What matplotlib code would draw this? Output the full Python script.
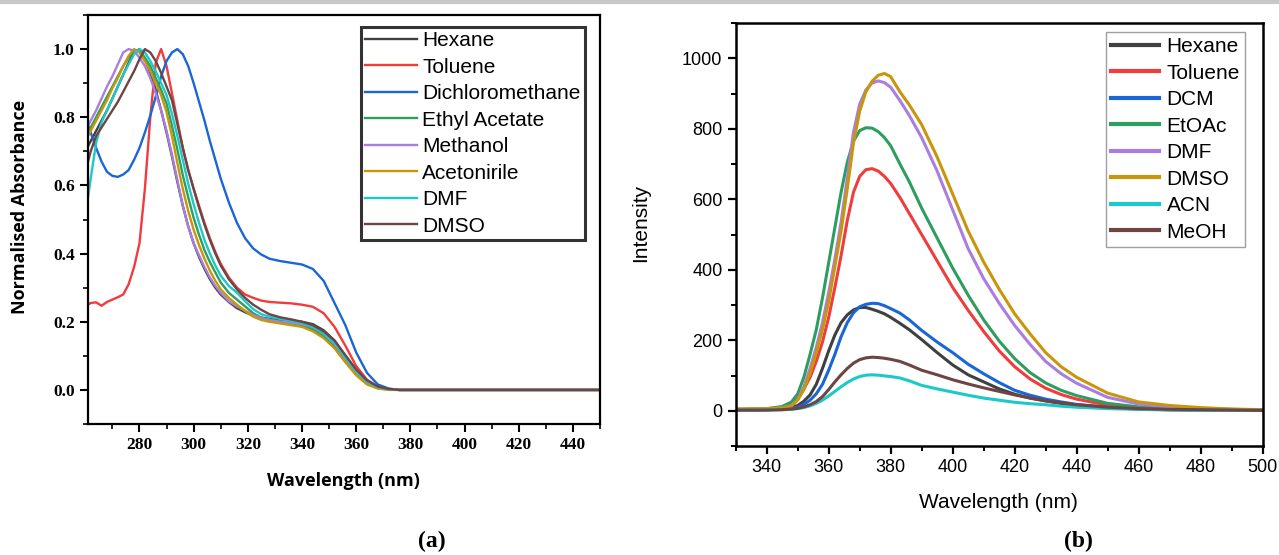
import matplotlib
matplotlib.use("Agg")
import matplotlib.pyplot as plt
from matplotlib.ticker import MultipleLocator, FixedLocator

# ---- (a) normalised absorbance ----
abs_wl = [260, 262, 264, 266, 268, 270, 272, 274, 276, 278, 280, 282, 284, 286, 288,
          290, 292, 294, 296, 298, 300, 302, 304, 306, 308, 310, 313, 316, 319, 322,
          325, 328, 332, 336, 340, 344, 348, 352, 356, 360, 364, 368, 372, 376, 380, 450]

abs_hexane = [.70, .73, .76, .79, .82, .855, .89, .925, .96, .99, 1.0, .97, .93, .88, .82,
              .755, .685, .61, .54, .48, .43, .39, .355, .325, .30, .28, .258, .24, .228, .218,
              .212, .208, .205, .203, .20, .193, .175, .145, .10, .058, .025, .008, .002, 0, 0, 0]
abs_toluene = [.246, .255, .257, .247, .258, .265, .272, .28, .31, .36, .43, .59, .80, .96, 1.0,
               .95, .87, .79, .71, .645, .59, .54, .49, .445, .405, .37, .33, .30, .28, .27,
               .262, .258, .256, .254, .25, .244, .225, .185, .13, .07, .03, .01, .002, 0, 0, 0]
abs_dcm = [.80, .755, .71, .67, .64, .628, .625, .632, .645, .675, .71, .755, .805, .86, .92,
           .965, .99, 1.0, .985, .95, .90, .845, .79, .73, .675, .62, .55, .49, .445, .415,
           .397, .385, .378, .373, .368, .355, .32, .255, .19, .11, .05, .016, .004, 0, 0, 0]
abs_etoac = [.74, .77, .80, .83, .86, .89, .92, .95, .975, .995, .995, .975, .95, .915, .88,
             .84, .775, .705, .63, .565, .505, .455, .41, .375, .345, .315, .285, .265, .245, .225,
             .212, .207, .20, .195, .19, .178, .158, .128, .086, .047, .019, .005, .001, 0, 0, 0]
abs_methanol = [.76, .79, .82, .855, .89, .92, .955, .99, 1.0, .995, .975, .95, .915, .87, .82,
                .76, .69, .615, .54, .48, .43, .395, .36, .33, .305, .285, .26, .245, .232, .22,
                .21, .205, .20, .197, .193, .185, .165, .135, .092, .052, .022, .007, .002, 0, 0, 0]
abs_acn = [.73, .76, .79, .82, .85, .885, .915, .95, .98, 1.0, .99, .965, .935, .90, .865,
           .815, .745, .665, .59, .525, .47, .425, .385, .35, .32, .295, .27, .25, .232, .215,
           .205, .20, .195, .19, .185, .172, .152, .122, .081, .043, .016, .004, 0, 0, 0, 0]
abs_dmf = [.51, .62, .725, .785, .82, .855, .89, .925, .955, .985, 1.0, .99, .965, .935, .90,
           .865, .81, .745, .675, .605, .545, .49, .44, .40, .365, .335, .305, .285, .26, .237,
           .222, .215, .208, .202, .196, .186, .165, .138, .095, .055, .024, .008, .002, 0, 0, 0]
abs_dmso = [.64, .70, .745, .77, .795, .82, .845, .875, .905, .935, .97, 1.0, .99, .965, .93,
            .89, .85, .78, .71, .645, .59, .535, .485, .44, .40, .365, .325, .295, .27, .25,
            .235, .222, .213, .207, .20, .19, .172, .145, .102, .06, .028, .01, .003, 0, 0, 0]

abs_names = ["Hexane", "Toluene", "Dichloromethane", "Ethyl Acetate", "Methanol",
             "Acetonirile", "DMF", "DMSO"]
abs_series = [abs_hexane, abs_toluene, abs_dcm, abs_etoac, abs_methanol, abs_acn, abs_dmf, abs_dmso]
abs_colors = ["#404040", "#f03c3c", "#1a66d6", "#2e9e5e", "#a97ee0", "#c8960a", "#1cc8c8", "#6e4444"]

# ---- (b) emission ----
em_wl = [330, 340, 345, 348, 350, 352, 354, 356, 358, 360, 362, 364, 366, 368, 370, 372, 374,
         376, 378, 380, 383, 386, 390, 395, 400, 405, 410, 415, 420, 425, 430, 435, 440, 450,
         460, 470, 480, 490, 500]

em_hexane = [2, 3, 5, 9, 15, 27, 45, 75, 120, 170, 215, 250, 272, 286, 293, 293, 288,
             282, 275, 265, 248, 230, 202, 165, 130, 102, 82, 62, 47, 36, 28, 21, 16, 9,
             5, 3, 2, 1, 1]
em_toluene = [3, 4, 8, 17, 35, 62, 95, 140, 195, 265, 350, 440, 540, 620, 665, 684, 687,
              680, 665, 645, 605, 560, 500, 425, 350, 285, 225, 170, 125, 90, 64, 46, 33, 16,
              8, 5, 3, 2, 2]
em_dcm = [2, 3, 4, 7, 10, 18, 30, 48, 75, 115, 160, 210, 250, 278, 295, 302, 305,
          304, 298, 290, 277, 258, 228, 195, 165, 132, 105, 80, 58, 44, 33, 25, 18, 10,
          5, 3, 2, 2, 1]
em_etoac = [4, 6, 12, 25, 48, 95, 160, 230, 320, 420, 520, 620, 705, 765, 795, 803, 802,
            792, 775, 752, 700, 650, 575, 490, 405, 328, 258, 198, 148, 108, 79, 58, 43, 21,
            11, 6, 4, 3, 2]
em_dmf = [4, 5, 8, 15, 32, 68, 120, 180, 250, 335, 430, 535, 660, 790, 870, 910, 930,
          936, 931, 918, 880, 838, 775, 680, 570, 460, 375, 305, 242, 188, 140, 105, 78, 38,
          19, 11, 6, 4, 2]
em_dmso = [5, 6, 8, 14, 30, 60, 107, 165, 230, 310, 410, 510, 630, 760, 850, 905, 935,
           952, 957, 948, 905, 868, 812, 720, 615, 510, 422, 345, 275, 218, 165, 125, 95, 50,
           25, 15, 9, 5, 3]
em_acn = [2, 2, 3, 4, 6, 9, 14, 21, 30, 42, 55, 68, 80, 90, 97, 101, 102,
          101, 99, 97, 93, 85, 72, 62, 53, 44, 36, 30, 24, 20, 17, 13, 10, 6,
          4, 2, 1, 1, 1]
em_meoh = [2, 2, 3, 5, 7, 11, 17, 26, 40, 60, 82, 102, 120, 135, 145, 150, 152,
           151, 149, 146, 140, 130, 115, 102, 88, 76, 65, 55, 45, 36, 28, 22, 17, 10,
           6, 4, 3, 2, 1]

em_names = ["Hexane", "Toluene", "DCM", "EtOAc", "DMF", "DMSO", "ACN", "MeOH"]
em_series = [em_hexane, em_toluene, em_dcm, em_etoac, em_dmf, em_dmso, em_acn, em_meoh]
em_colors = ["#404040", "#f03c3c", "#1a66d6", "#2e9e5e", "#a97ee0", "#c8960a", "#1cc8c8", "#6e4444"]

fig = plt.figure(figsize=(12.79, 5.55), dpi=100)
fig.add_artist(plt.Line2D([0, 1], [0.997, 0.997], color="#c8c8c8", lw=3,
                          transform=fig.transFigure))

# left panel
ax1 = fig.add_axes([0.0688, 0.236, 0.4003, 0.737])
for name, ys, c in zip(abs_names, abs_series, abs_colors):
    ax1.plot(abs_wl, ys, color=c, lw=1.7, label=name)
ax1.set_xlim(261, 450)
ax1.set_ylim(-0.1, 1.1)
ax1.xaxis.set_major_locator(FixedLocator(list(range(280, 441, 20))))
ax1.xaxis.set_minor_locator(MultipleLocator(10))
ax1.yaxis.set_major_locator(FixedLocator([0.0, 0.2, 0.4, 0.6, 0.8, 1.0]))
ax1.yaxis.set_minor_locator(MultipleLocator(0.1))
ax1.yaxis.set_major_formatter(plt.FuncFormatter(lambda v, p: "%.1f" % v))
ax1.tick_params(which="major", direction="out", length=6, width=1.5)
ax1.tick_params(which="minor", direction="out", length=3.5, width=1.2)
for lab in ax1.get_xticklabels() + ax1.get_yticklabels():
    lab.set_fontfamily("Liberation Serif")
    lab.set_fontweight("bold")
    lab.set_fontsize(12.5)
for sp in ax1.spines.values():
    sp.set_linewidth(1.6)
ax1.set_xlabel("Wavelength (nm)", fontfamily="Open Sans", fontweight="bold", fontsize=13)
ax1.set_ylabel("Normalised Absorbance", fontfamily="Open Sans", fontweight="bold", fontsize=13)
ax1.xaxis.set_label_coords(0.498, -0.118)
ax1.yaxis.set_label_coords(-0.116, 0.53)
leg1 = ax1.legend(loc="upper left", bbox_to_anchor=(0.533, 0.971), borderaxespad=0,
                  prop={"family": "Liberation Sans", "size": 15}, frameon=True, fancybox=False,
                  handlelength=2.5, handletextpad=0.25, borderpad=0.2, labelspacing=0.36)
leg1.get_frame().set_edgecolor("black")
leg1.get_frame().set_linewidth(2.2)

# right panel
ax2 = fig.add_axes([0.5752, 0.1964, 0.412, 0.762])
for name, ys, c in zip(em_names, em_series, em_colors):
    ax2.plot(em_wl, ys, color=c, lw=2.2, label=name)
ax2.set_xlim(330, 500)
ax2.set_ylim(-100, 1100)
ax2.xaxis.set_major_locator(MultipleLocator(20))
ax2.xaxis.set_minor_locator(MultipleLocator(10))
ax2.yaxis.set_major_locator(FixedLocator([0, 200, 400, 600, 800, 1000]))
ax2.yaxis.set_minor_locator(MultipleLocator(100))
ax2.tick_params(which="major", direction="out", length=6, width=1.6, labelsize=13)
ax2.tick_params(which="minor", direction="out", length=3.5, width=1.4)
for lab in ax2.get_xticklabels() + ax2.get_yticklabels():
    lab.set_fontfamily("Liberation Sans")
for sp in ax2.spines.values():
    sp.set_linewidth(1.8)
ax2.set_xlabel("Wavelength (nm)", fontfamily="Liberation Sans", fontsize=15)
ax2.set_ylabel("Intensity", fontfamily="Liberation Sans", fontsize=15)
ax2.xaxis.set_label_coords(0.498, -0.112)
ax2.yaxis.set_label_coords(-0.163, 0.527)
leg2 = ax2.legend(loc="upper left", bbox_to_anchor=(0.703, 0.979), borderaxespad=0,
                  prop={"family": "Liberation Sans", "size": 15}, frameon=True, fancybox=False,
                  handlelength=2.3, handletextpad=0.35, borderpad=0.25, labelspacing=0.36)
leg2.get_frame().set_edgecolor("#888888")
leg2.get_frame().set_linewidth(1.0)
for ln in leg2.get_lines():
    ln.set_linewidth(3)

fig.text(432 / 1279, 1 - 541 / 555, "(a)", ha="center", va="center",
         fontfamily="Liberation Serif", fontweight="bold", fontsize=17)
fig.text(1078 / 1279, 1 - 541 / 555, "(b)", ha="center", va="center",
         fontfamily="Liberation Serif", fontweight="bold", fontsize=17)

fig.savefig("out.png", dpi=100)
